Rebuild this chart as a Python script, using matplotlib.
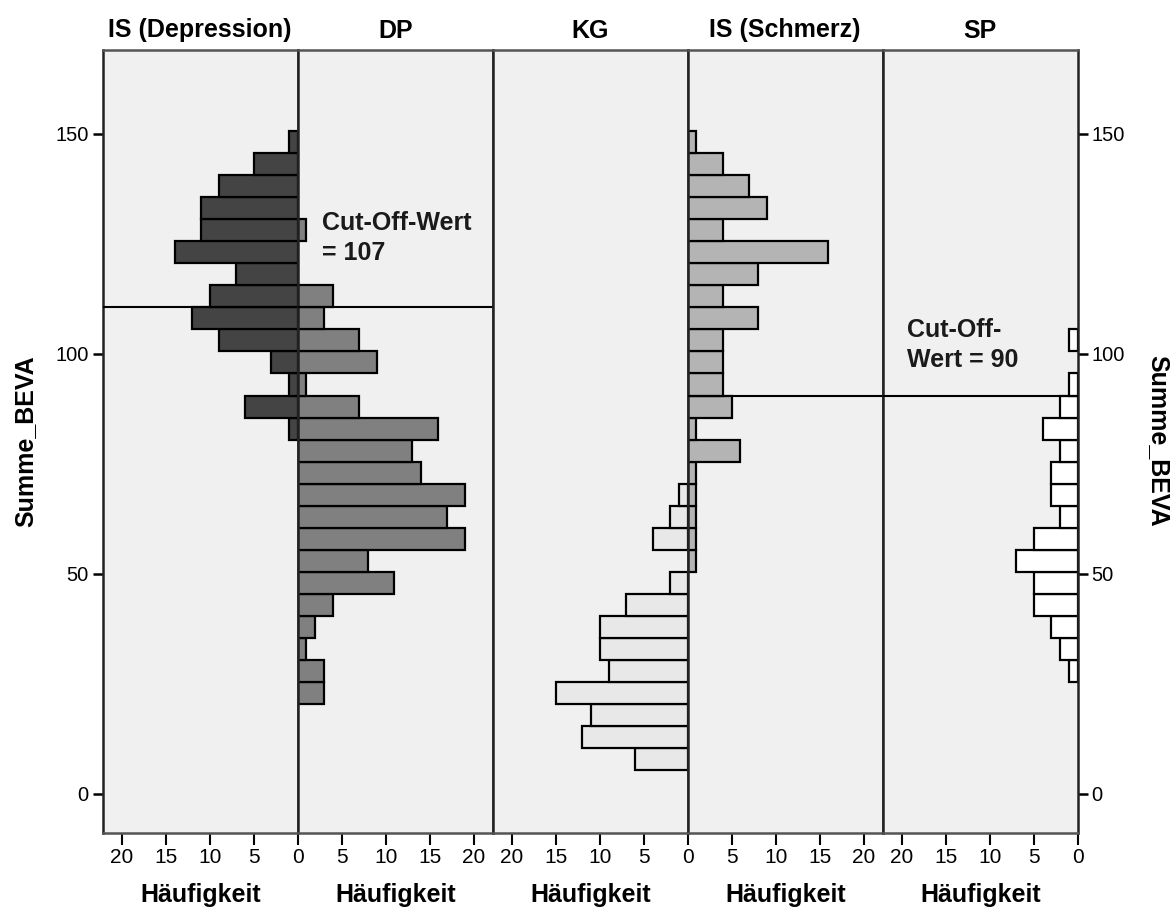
import numpy as np
import matplotlib
matplotlib.use("Agg")
import matplotlib.pyplot as plt

plt.rcParams['font.family'] = ['Liberation Sans', 'DejaVu Sans']

# ---- data -------------------------------------------------------------
groups = ["IS (Depression)", "DP", "KG", "IS (Schmerz)", "SP"]
bin_width = 5
bin_lower = np.arange(5.5, 150.0, 5.0)   # 5.5, 10.5, ..., 145.5  (29 bins)

counts_is_dep = [0]*15 + [1, 6, 1, 3, 9, 12, 10, 7, 14, 11, 11, 9, 5, 1]
counts_dp = [0]*3 + [3, 3, 1, 2, 4, 11, 8, 19, 17, 19, 14, 13, 16, 7, 1, 9, 7, 3, 4, 0, 0, 1] + [0]*4
counts_kg = [6, 12, 11, 15, 9, 10, 10, 7, 2, 0, 4, 2, 1] + [0]*16
counts_is_schmerz = [0]*9 + [1, 1, 1, 1, 1, 6, 1, 5, 4, 4, 4, 8, 4, 8, 16, 4, 9, 7, 4, 1]
counts_sp = [0]*4 + [1, 2, 3, 5, 5, 7, 5, 2, 3, 3, 2, 4, 2, 1, 0, 1] + [0]*9

all_counts = [counts_is_dep, counts_dp, counts_kg, counts_is_schmerz, counts_sp]
bar_colors = ["#444444", "#808080", "#e8e8e8", "#b4b4b4", "#ffffff"]
mirrored = [True, False, True, False, True]

cutoff_dep = 110.5     # drawn position of the cut-off line (IS Depression / DP)
cutoff_pain = 90.5     # drawn position of the cut-off line (IS Schmerz / SP)
cutoff_dep_label = "Cut-Off-Wert\n= 107"
cutoff_pain_label = "Cut-Off-\nWert = 90"

x_ticks = [0, 5, 10, 15, 20]
y_ticks = [0, 50, 100, 150]
x_label = "Häufigkeit"
y_label = "Summe_BEVA"

# ---- figure -----------------------------------------------------------
W, H = 1176, 915
fig = plt.figure(figsize=(W/100, H/100), dpi=100)

left_px, right_px, top_px, bottom_px = 102.7, 1077.7, 50, 833
panel_w = (right_px - left_px) / 5
ylim = (-8.9, 169.0)
xmax = 22.16

axes = []
for i, (name, cnts, col, mir) in enumerate(zip(groups, all_counts, bar_colors, mirrored)):
    x0 = (left_px + i*panel_w) / W
    ax = fig.add_axes([x0, 1 - bottom_px/H, panel_w/W, (bottom_px - top_px)/H])
    ax.set_facecolor("#f0f0f0")
    cnts = np.asarray(cnts)
    mask = cnts > 0
    ax.barh(bin_lower[mask], cnts[mask], height=bin_width, align='edge',
            color=col, edgecolor='black', linewidth=1.6, zorder=2)
    ax.set_ylim(*ylim)
    if mir:
        ax.set_xlim(xmax, 0)
        ticks = x_ticks
    else:
        ax.set_xlim(0, xmax)
        ticks = x_ticks[1:]
    ax.set_xticks(ticks)
    ax.set_xticklabels([str(t) for t in ticks], fontsize=15)
    ax.tick_params(axis='x', direction='out', length=8.5, width=1.5, pad=2, colors='black')
    ax.set_xlabel(x_label, fontsize=18, fontweight='bold', labelpad=12)
    ax.set_title(name, fontsize=18, fontweight='bold', pad=9)
    for s in ax.spines.values():
        s.set_linewidth(1.8)
        s.set_color('#222222')
    ax.spines['top'].set_color('#555555')
    ax.spines['bottom'].set_color('#555555')
    if i == 0:
        ax.set_yticks(y_ticks)
        ax.set_yticklabels([str(t) for t in y_ticks], fontsize=14.5)
        ax.tick_params(axis='y', direction='out', length=7, width=1.8, pad=3)
    elif i == 4:
        ax.yaxis.tick_right()
        ax.set_yticks(y_ticks)
        ax.set_yticklabels([str(t) for t in y_ticks], fontsize=14.5)
        ax.tick_params(axis='y', direction='out', length=7, width=1.8, pad=3)
    else:
        ax.set_yticks([])
    axes.append(ax)

for ax in axes[:2]:
    ax.axhline(cutoff_dep, color='black', linewidth=1.5, zorder=3)
for ax in axes[3:]:
    ax.axhline(cutoff_pain, color='black', linewidth=1.5, zorder=3)

axes[1].text(2.8, 132.5, cutoff_dep_label, fontsize=18, fontweight='bold',
             color='#1a1a1a', va='top', ha='left', linespacing=1.35, zorder=4)
axes[4].text(xmax - 2.8, 108.0, cutoff_pain_label, fontsize=18, fontweight='bold',
             color='#1a1a1a', va='top', ha='left', linespacing=1.3, zorder=4)

fig.text(25/W, 1 - 441/H, y_label, rotation=90, fontsize=18, fontweight='bold',
         ha='center', va='center')
fig.text(1158/W, 1 - 441/H, y_label, rotation=270, fontsize=18, fontweight='bold',
         ha='center', va='center')

fig.savefig("out.png", dpi=100, facecolor='white')
